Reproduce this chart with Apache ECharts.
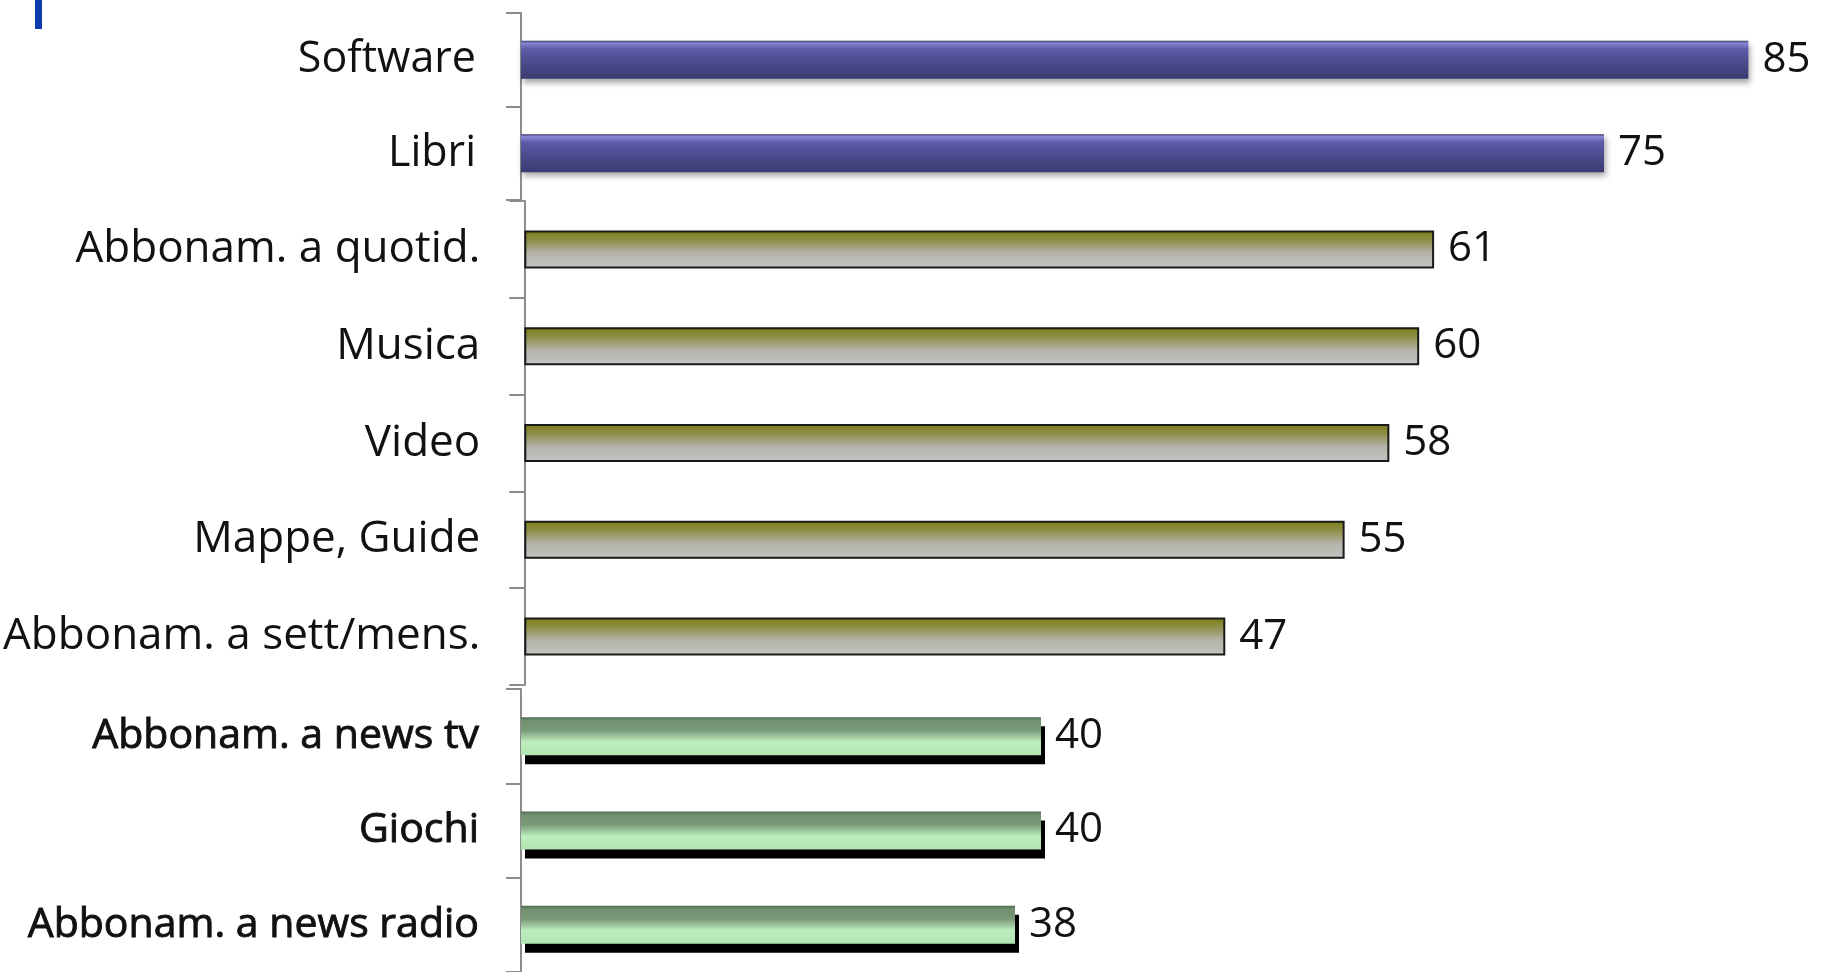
<!DOCTYPE html>
<html>
<head>
<meta charset="utf-8">
<script src="https://cdn.jsdelivr.net/npm/echarts@6/dist/echarts.min.js"></script>
<style>
html,body{margin:0;padding:0;background:#fff;}
#chart{width:1823px;height:972px;}
</style>
</head>
<body>
<div id="chart"></div>
<script>
// Data (three stacked panels, as in the original)
const topCategories = ['Software', 'Libri'];
const topValues = [85, 75];
const midCategories = ['Abbonam. a quotid.', 'Musica', 'Video', 'Mappe, Guide', 'Abbonam. a sett/mens.'];
const midValues = [61, 60, 58, 55, 47];
const botCategories = ['Abbonam. a news tv', 'Giochi', 'Abbonam. a news radio'];
const botValues = [40, 40, 38];
const axisMax = 85;

const chart = echarts.init(document.getElementById('chart'));
const FONT = '"Open Sans", "Noto Sans", sans-serif';

function catAxis(idx, cats, margin, size, border) {
  return {
    type: 'category', gridIndex: idx, data: cats, inverse: true,
    axisLine: { show: true, lineStyle: { color: '#8c8c8c', width: 2 } },
    axisTick: { show: true, length: 15, lineStyle: { color: '#8c8c8c', width: 2 } },
    axisLabel: {
      margin: margin, fontFamily: FONT, fontSize: size, color: '#111',
      textBorderColor: '#111', textBorderWidth: border, padding: [4, 0, 0, 0]
    }
  };
}
function valAxis(idx) {
  return { type: 'value', gridIndex: idx, min: 0, max: axisMax, show: false };
}
const labelStyle = { show: true, position: 'right', distance: 14, fontFamily: FONT, fontSize: 42, color: '#111', padding: [4, 0, 0, 0] };

const option = {
  animation: false,
  backgroundColor: '#fff',
  graphic: [{ type: 'rect', left: 35, top: 0, shape: { width: 7, height: 29 }, style: { fill: '#0a3cab' } }],
  grid: [
    { left: 521, top: 13, width: 85 * 14.44, height: 187 },
    { left: 523, top: 201, width: 85 * 14.93, height: 484 },
    { left: 521, top: 689, width: 85 * 13.0, height: 285 }
  ],
  xAxis: [valAxis(0), valAxis(1), valAxis(2)],
  yAxis: [
    catAxis(0, topCategories, 45, 43, 0),
    catAxis(1, midCategories, 44, 44, 0),
    catAxis(2, botCategories, 42, 41, 0.9)
  ],
  series: [
    {
      type: 'bar', xAxisIndex: 0, yAxisIndex: 0, data: topValues, barWidth: 38,
      itemStyle: {
        color: new echarts.graphic.LinearGradient(0, 0, 0, 1, [
          { offset: 0, color: '#3a3a66' },
          { offset: 0.06, color: '#8888d6' },
          { offset: 0.22, color: '#5b5ba8' },
          { offset: 0.6, color: '#4a4a8c' },
          { offset: 1, color: '#3a3a70' }
        ]),
        shadowColor: 'rgba(0,0,0,0.35)', shadowBlur: 6, shadowOffsetX: 2, shadowOffsetY: 4
      },
      label: labelStyle
    },
    {
      type: 'bar', xAxisIndex: 1, yAxisIndex: 1, data: midValues, barWidth: 38,
      itemStyle: {
        color: new echarts.graphic.LinearGradient(0, 0, 0, 1, [
          { offset: 0, color: '#7b7b12' },
          { offset: 0.25, color: '#8e8e48' },
          { offset: 0.6, color: '#b4b4aa' },
          { offset: 1, color: '#c4c4c2' }
        ]),
        borderColor: '#1a1a1a', borderWidth: 2
      },
      label: labelStyle
    },
    {
      type: 'bar', xAxisIndex: 2, yAxisIndex: 2, data: botValues, barWidth: 38,
      itemStyle: {
        color: new echarts.graphic.LinearGradient(0, 0, 0, 1, [
          { offset: 0, color: '#4f6a4f' },
          { offset: 0.08, color: '#6f8f6f' },
          { offset: 0.35, color: '#7a9a7a' },
          { offset: 0.65, color: '#bdeebd' },
          { offset: 1, color: '#b2e4b2' }
        ]),
        shadowColor: '#000', shadowBlur: 0, shadowOffsetX: 4, shadowOffsetY: 9
      },
      label: labelStyle
    }
  ]
};
chart.setOption(option);
</script>
</body>
</html>
